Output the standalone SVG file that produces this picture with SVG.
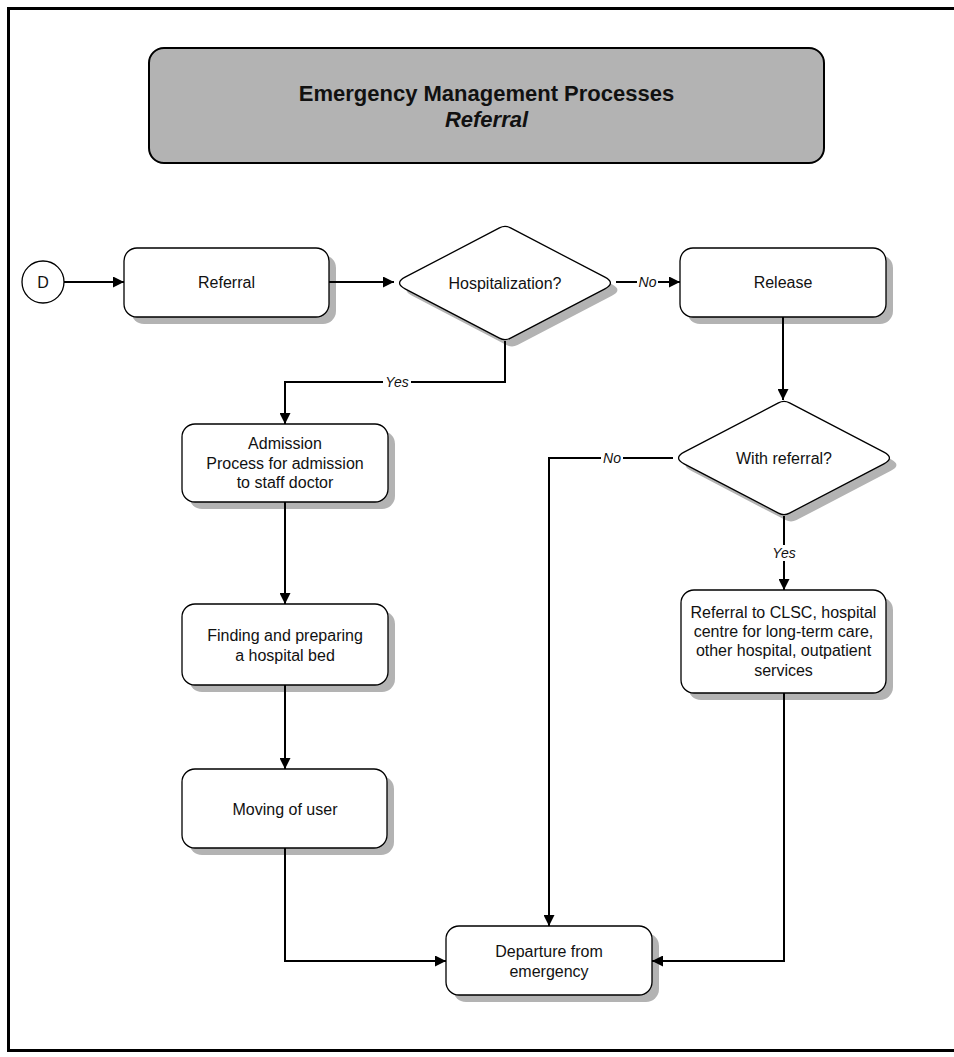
<svg xmlns="http://www.w3.org/2000/svg" xmlns:xlink="http://www.w3.org/1999/xlink" width="954" height="1057" viewBox="0 0 954 1057">
<style>
text{font-family:"Liberation Sans",Arial,sans-serif;fill:#111;}
.t{font-size:16px;text-anchor:middle;}
.lbl{font-size:14px;font-style:italic;text-anchor:middle;}
.box{fill:#fff;stroke:#000;stroke-width:1.3;}
.sh{fill:#b3b3b3;stroke:none;}
.c{fill:none;stroke:#000;stroke-width:2;}
.gap{fill:#fff;stroke:none;}
</style>
<defs>
<marker id="ah" viewBox="0 0 11 11" refX="11" refY="5.5" markerWidth="11" markerHeight="11" markerUnits="userSpaceOnUse" orient="auto">
<path d="M0,0 L11,5.5 L0,11 Z" fill="#000"/>
</marker>
<path id="dia" d="M-99.9,-5.8 L-5.55,-55.1 Q0,-58 5.55,-55.1 L99.9,-5.8 Q111,0 99.9,5.8 L5.55,55.1 Q0,58 -5.55,55.1 L-99.9,5.8 Q-111,0 -99.9,-5.8 Z"/>
</defs>

<g id="frame">
<rect x="14.5" y="14.5" width="960" height="1037" fill="#000"/>
<rect x="8.5" y="8.5" width="960" height="1042" fill="#fff" stroke="#000" stroke-width="3"/>
</g>

<g id="title">
<rect x="149" y="48" width="675" height="115" rx="15" ry="15" fill="#b3b3b3" stroke="#000" stroke-width="2"/>
<text x="486.5" y="101" style="font-size:22px;font-weight:bold;text-anchor:middle">Emergency Management Processes</text>
<text x="486.5" y="127" style="font-size:22px;font-weight:bold;font-style:italic;text-anchor:middle">Referral</text>
</g>

<g id="node-d">
<circle cx="43" cy="282" r="21" class="box"/>
<text class="t" x="43" y="288">D</text>
</g>

<g id="node-referral">
<rect class="sh" x="131" y="255" width="205" height="69" rx="13"/>
<rect class="box" x="124" y="248" width="205" height="69" rx="13"/>
<text class="t" x="226.5" y="288">Referral</text>
</g>

<g id="node-hospitalization">
<use href="#dia" xlink:href="#dia" class="sh" transform="translate(512,290)"/>
<use href="#dia" xlink:href="#dia" class="box" transform="translate(505,283)"/>
<text class="t" x="505" y="289">Hospitalization?</text>
</g>

<g id="node-release">
<rect class="sh" x="687" y="255" width="206" height="69" rx="13"/>
<rect class="box" x="680" y="248" width="206" height="69" rx="13"/>
<text class="t" x="783" y="288">Release</text>
</g>

<g id="node-withreferral">
<use href="#dia" xlink:href="#dia" class="sh" transform="translate(791,465)"/>
<use href="#dia" xlink:href="#dia" class="box" transform="translate(784,458)"/>
<text class="t" x="784" y="464">With referral?</text>
</g>

<g id="node-admission">
<rect class="sh" x="189" y="431" width="206" height="78" rx="13"/>
<rect class="box" x="182" y="424" width="206" height="78" rx="13"/>
<text class="t" x="285" y="449">Admission</text>
<text class="t" x="285" y="468.5">Process for admission</text>
<text class="t" x="285" y="488">to staff doctor</text>
</g>

<g id="node-finding">
<rect class="sh" x="189" y="611" width="206" height="81" rx="13"/>
<rect class="box" x="182" y="604" width="206" height="81" rx="13"/>
<text class="t" x="285" y="641">Finding and preparing</text>
<text class="t" x="285" y="661">a hospital bed</text>
</g>

<g id="node-moving">
<rect class="sh" x="189" y="776" width="205" height="79" rx="13"/>
<rect class="box" x="182" y="769" width="205" height="79" rx="13"/>
<text class="t" x="285" y="814.5">Moving of user</text>
</g>

<g id="node-clsc">
<rect class="sh" x="688" y="597" width="205" height="103" rx="13"/>
<rect class="box" x="681" y="590" width="205" height="103" rx="13"/>
<text class="t" x="783.5" y="618">Referral to CLSC, hospital</text>
<text class="t" x="783.5" y="637">centre for long-term care,</text>
<text class="t" x="783.5" y="656">other hospital, outpatient</text>
<text class="t" x="783.5" y="675.5">services</text>
</g>

<g id="node-departure">
<rect class="sh" x="453" y="933" width="206" height="69" rx="13"/>
<rect class="box" x="446" y="926" width="206" height="69" rx="13"/>
<text class="t" x="549" y="957">Departure from</text>
<text class="t" x="549" y="976.5">emergency</text>
</g>

<g id="connectors">
<line class="c" x1="64" y1="282" x2="124" y2="282" marker-end="url(#ah)"/>
<line class="c" x1="329" y1="282" x2="394" y2="282" marker-end="url(#ah)"/>
<line class="c" x1="616" y1="282" x2="680" y2="282" marker-end="url(#ah)"/>
<polyline class="c" points="505,341 505,382 285,382 285,424" marker-end="url(#ah)"/>
<line class="c" x1="783" y1="317" x2="783" y2="400" marker-end="url(#ah)"/>
<polyline class="c" points="673,458 549,458 549,926" marker-end="url(#ah)"/>
<line class="c" x1="784" y1="516" x2="784" y2="590" marker-end="url(#ah)"/>
<polyline class="c" points="784,693 784,961 652,961" marker-end="url(#ah)"/>
<line class="c" x1="285" y1="502" x2="285" y2="604" marker-end="url(#ah)"/>
<line class="c" x1="285" y1="685" x2="285" y2="769" marker-end="url(#ah)"/>
<polyline class="c" points="285,848 285,961 446,961" marker-end="url(#ah)"/>
<rect class="gap" x="637" y="274" width="21" height="16"/>
<text class="lbl" x="647.5" y="287">No</text>
<rect class="gap" x="383" y="374" width="28" height="16"/>
<text class="lbl" x="397" y="387">Yes</text>
<rect class="gap" x="601" y="450" width="22" height="16"/>
<text class="lbl" x="612" y="463">No</text>
<rect class="gap" x="770" y="545" width="28" height="16"/>
<text class="lbl" x="784" y="558">Yes</text>
</g>
</svg>
